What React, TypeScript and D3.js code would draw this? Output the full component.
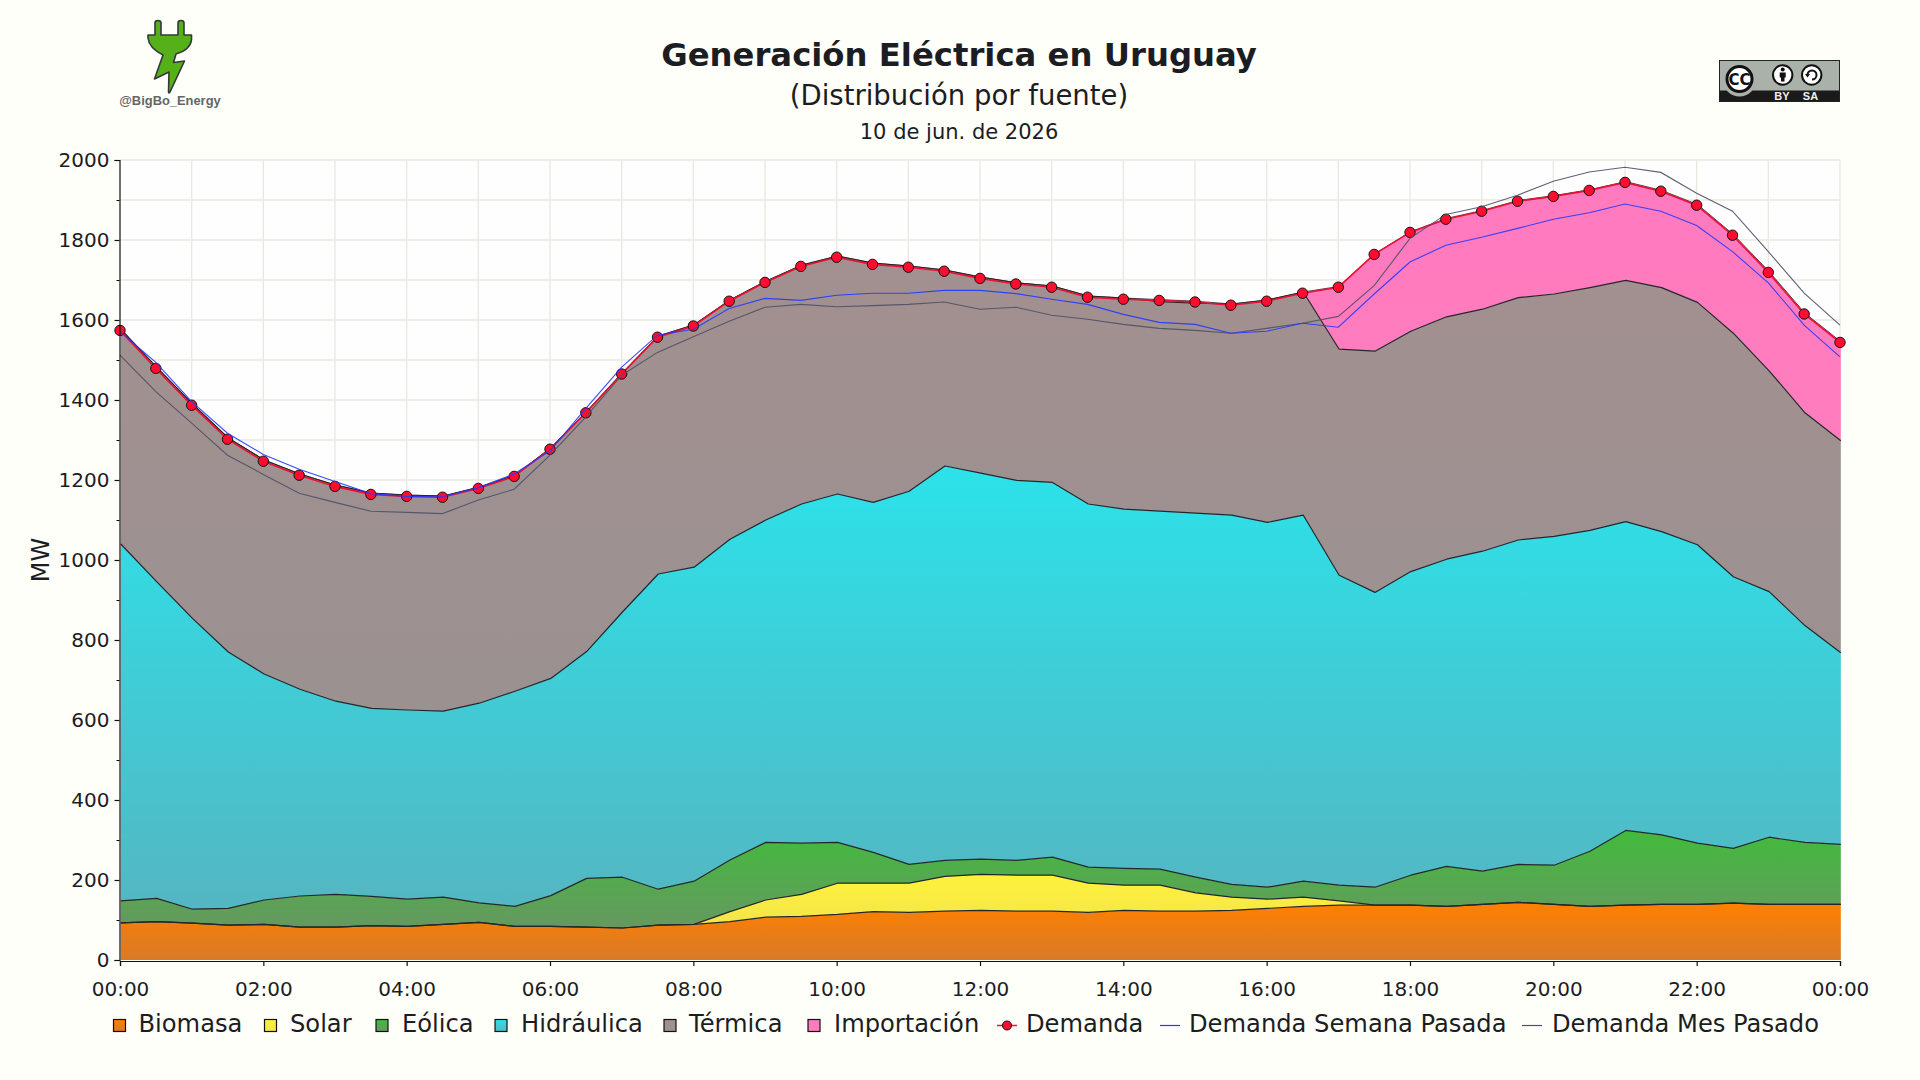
import { useEffect, useRef } from 'react'
import * as d3 from 'd3'

const hours = [
  0, 0.5, 1, 1.5, 2, 2.5, 3, 3.5, 4, 4.5, 5, 5.5, 6, 6.5, 7, 7.5, 8, 8.5, 9, 9.5, 10, 10.5, 11, 11.5,
  12, 12.5, 13, 13.5, 14, 14.5, 15, 15.5, 16, 16.5, 17, 17.5, 18, 18.5, 19, 19.5, 20, 20.5, 21, 21.5,
  22, 22.5, 23, 23.5, 24
]

const biomasa = [
  93, 96, 92, 87, 89, 82, 82, 86, 84, 89, 94, 84, 84, 82, 80, 87, 89, 96, 107, 109, 114, 121, 119, 122,
  124, 122, 122, 119, 124, 122, 122, 124, 129, 134, 137, 137, 137, 134, 139, 144, 139, 134, 137, 139,
  139, 142, 139, 139, 139
]
const solar = [
  0, 0, 0, 0, 0, 0, 0, 0, 0, 0, 0, 0, 0, 0, 0, 0, 0, 25, 43, 55, 78, 71, 73, 87,
  90, 90, 90, 73, 63, 65, 46, 33, 23, 23, 11, 0, 0, 0, 0, 0, 0, 0, 0, 0,
  0, 0, 0, 0, 0
]
const eolica = [
  55, 58, 35, 42, 61, 78, 82, 73, 68, 68, 49, 50, 77, 122, 127, 90, 108, 129, 144, 128, 102, 77, 47, 40,
  38, 37, 45, 40, 42, 40, 39, 32, 30, 40, 39, 45, 75, 100, 83, 95, 98, 138, 187, 174,
  153, 137, 168, 155, 150
]
const hidraulica = [
  892, 792, 727, 641, 565, 517, 483, 470, 473, 465, 499, 538, 543, 567, 663, 788, 785, 802, 806, 848, 871, 875, 933, 986,
  965, 950, 937, 908, 898, 895, 910, 923, 912, 915, 775, 737, 759, 768, 800, 811, 822, 802, 772, 758,
  746, 679, 614, 542, 479
]
const termica = [
  537, 536, 536, 535, 535, 538, 540, 538, 537, 538, 540, 540, 576, 600, 598, 595, 606, 598, 597, 597, 595, 598, 563, 490,
  490, 494, 491, 520, 528, 524, 525, 528, 556, 558, 565, 603, 601, 606, 605, 606, 606, 607, 603, 610,
  606, 609, 552, 532, 530
]
const importacion = [
  0, 0, 0, 0, 0, 0, 0, 0, 0, 0, 0, 0, 0, 0, 0, 0, 0, 0, 0, 0, 0, 0, 0, 0,
  0, 0, 0, 0, 0, 5, 5, 0, 0, 0, 157, 244, 249, 246, 247, 243, 246, 245, 247, 243,
  245, 247, 248, 249, 248
]
const demanda = [
  1574, 1479, 1387, 1302, 1247, 1212, 1184, 1164, 1159, 1157, 1179, 1209, 1277, 1368, 1465, 1557, 1585, 1647, 1694, 1734, 1757, 1739, 1732, 1722,
  1704, 1690, 1682, 1657, 1652, 1649, 1645, 1637, 1647, 1667, 1682, 1764, 1819, 1852, 1872, 1897, 1909, 1924, 1944, 1922,
  1887, 1812, 1719, 1615, 1544
]
const semanaPasada = [
  1571, 1494, 1396, 1317, 1264, 1227, 1196, 1166, 1159, 1158, 1181, 1215, 1273, 1379, 1482, 1562, 1577, 1629, 1654, 1649, 1662, 1667, 1667, 1674,
  1674, 1666, 1652, 1639, 1614, 1594, 1589, 1567, 1572, 1592, 1582, 1665, 1745, 1787, 1807, 1829, 1852, 1868, 1890, 1872,
  1836, 1771, 1693, 1587, 1508
]
const mesPasado = [
  1512, 1421, 1342, 1262, 1214, 1167, 1144, 1122, 1119, 1116, 1150, 1177, 1262, 1358, 1462, 1519, 1558, 1597, 1632, 1639, 1633, 1636, 1639, 1645,
  1627, 1632, 1612, 1602, 1589, 1579, 1574, 1567, 1579, 1592, 1609, 1686, 1804, 1864, 1883, 1912, 1947, 1970, 1982, 1969,
  1917, 1872, 1771, 1667, 1587
]

const sources = ['Biomasa', 'Solar', 'Eólica', 'Hidráulica', 'Térmica', 'Importación']
const sourceValues = [biomasa, solar, eolica, hidraulica, termica, importacion]
const gradients = [
  ['#ff8000', '#d87a28'],
  ['#fff23a', '#f3e44c'],
  ['#42bb3c', '#669860'],
  ['#2ce2ea', '#54b6c2'],
  ['#a39090', '#9b9191'],
  ['#ff7abf', '#ff7dbd']
]

const FONT = '"DejaVu Sans", sans-serif'
const INK = '#1c1d23'

export default function App() {
  const svgRef = useRef<SVGSVGElement>(null)

  useEffect(() => {
    if (!svgRef.current) return
    const svg = d3.select(svgRef.current)
    svg.selectAll('*').remove()

    const x = d3.scaleLinear().domain([0, 24]).range([120, 1840])
    const y = d3.scaleLinear().domain([0, 2000]).range([960, 160])

    // plot background and grid
    svg.append('rect').attr('width', 1920).attr('height', 1080).attr('fill', '#fffffa')
    svg.append('rect').attr('x', 120).attr('y', 160).attr('width', 1720).attr('height', 800).attr('fill', '#fffeff')

    const grid = svg.append('g').attr('stroke', '#e9e8e1').attr('stroke-width', 1.3)
    d3.range(1, 25).forEach(h => {
      grid.append('line').attr('x1', x(h)).attr('x2', x(h)).attr('y1', 160).attr('y2', 960)
    })
    d3.range(100, 2001, 100).forEach(v => {
      grid.append('line').attr('x1', 120).attr('x2', 1840).attr('y1', y(v)).attr('y2', y(v))
    })

    // stacked areas
    const rows = hours.map((h, i) => {
      const row: Record<string, number> = { h }
      sources.forEach((s, k) => { row[s] = sourceValues[k][i] })
      return row
    })
    const stacked = d3.stack<Record<string, number>>().keys(sources)(rows)

    const defs = svg.append('defs')
    gradients.forEach((g, i) => {
      const lg = defs.append('linearGradient')
        .attr('id', `grad${i}`)
        .attr('x1', 0).attr('x2', 0).attr('y1', 0).attr('y2', 1)
      lg.append('stop').attr('offset', '0%').attr('stop-color', g[0])
      lg.append('stop').attr('offset', '100%').attr('stop-color', g[1])
    })

    const area = d3.area<d3.SeriesPoint<Record<string, number>>>()
      .x(d => x(d.data.h) + 0.8)
      .y0(d => y(d[0]))
      .y1(d => y(d[1]))
    const topLine = d3.line<d3.SeriesPoint<Record<string, number>>>()
      .x(d => x(d.data.h) + 0.8)
      .y(d => y(d[1]))

    stacked.forEach((layer, i) => {
      svg.append('path').attr('d', area(layer)).attr('fill', `url(#grad${i})`)
    })
    stacked.forEach((layer, i) => {
      // solar and importación collapse onto the layer below, their line still shows
      svg.append('path').attr('d', topLine(layer))
        .attr('fill', 'none')
        .attr('stroke', '#23272b')
        .attr('stroke-width', i === 5 ? 0.8 : 1.2)
        .attr('stroke-linejoin', 'round')
    })

    // demand lines
    const line = d3.line<number>().x((_, i) => x(hours[i])).y(d => y(d))

    svg.append('path').attr('d', line(demanda))
      .attr('fill', 'none').attr('stroke', '#ee1032').attr('stroke-width', 1.6)
    svg.append('g').selectAll('circle')
      .data(demanda)
      .enter().append('circle')
      .attr('cx', (_, i) => x(hours[i]))
      .attr('cy', d => y(d))
      .attr('r', 5.2)
      .attr('fill', '#ff0c2e')
      .attr('stroke', '#111')
      .attr('stroke-width', 1)

    svg.append('path').attr('d', line(mesPasado))
      .attr('fill', 'none').attr('stroke', '#4f5066').attr('stroke-width', 1.1).attr('opacity', 0.9)
    svg.append('path').attr('d', line(semanaPasada))
      .attr('fill', 'none').attr('stroke', '#2238ff').attr('stroke-width', 1.1).attr('opacity', 0.9)

    // axes
    const xAxis = d3.axisBottom(x)
      .tickValues(d3.range(0, 25, 2))
      .tickSize(5)
      .tickPadding(16)
      .tickFormat(d => `${String(Number(d) % 24).padStart(2, '0')}:00`)
    const xg = svg.append('g').attr('transform', 'translate(0,961)').call(xAxis)

    const yAxis = d3.axisLeft(y)
      .tickValues(d3.range(0, 2001, 200))
      .tickSize(5)
      .tickPadding(5)
      .tickFormat(d => String(d))
    const yg = svg.append('g').attr('transform', 'translate(119.5,0)').call(yAxis)

    const yMinor = d3.axisLeft(y).tickValues(d3.range(100, 2000, 200)).tickSize(3).tickFormat(() => '')
    svg.append('g').attr('transform', 'translate(119.5,0)').call(yMinor).select('.domain').remove()

    ;[xg, yg].forEach(g => {
      g.selectAll('text')
        .style('font-family', FONT)
        .style('font-size', '20px')
        .style('fill', INK)
      g.selectAll('path,line').attr('stroke', '#111').attr('stroke-width', 1.2)
    })

    svg.append('text')
      .attr('transform', 'translate(49,560) rotate(-90)')
      .attr('text-anchor', 'middle')
      .style('font-family', FONT)
      .style('font-size', '24px')
      .style('fill', INK)
      .text('MW')

    // titles
    const title = (text: string, yPos: number, size: number, weight: string) =>
      svg.append('text')
        .attr('x', 959)
        .attr('y', yPos)
        .attr('text-anchor', 'middle')
        .style('font-family', FONT)
        .style('font-size', `${size}px`)
        .style('font-weight', weight)
        .style('fill', INK)
        .text(text)
    title('Generación Eléctrica en Uruguay', 66, 32.3, 'bold')
    title('(Distribución por fuente)', 105, 27.5, 'normal')
    title('10 de jun. de 2026', 139, 21, 'normal')

    // legend
    const legendText = (text: string, xPos: number) =>
      svg.append('text')
        .attr('x', xPos)
        .attr('y', 1031.5)
        .style('font-family', FONT)
        .style('font-size', '24.2px')
        .style('fill', INK)
        .text(text)
    const swatchX = [113.5, 264.5, 376, 495, 664, 808]
    const labelX = [138.5, 290, 402, 521, 689, 834]
    sources.forEach((s, i) => {
      svg.append('rect')
        .attr('x', swatchX[i]).attr('y', 1019.5)
        .attr('width', 12).attr('height', 12)
        .attr('fill', `url(#grad${i})`)
        .attr('stroke', '#111').attr('stroke-width', 1.2)
      legendText(s, labelX[i])
    })
    svg.append('line').attr('x1', 997).attr('x2', 1017).attr('y1', 1025.5).attr('y2', 1025.5)
      .attr('stroke', '#ee1032').attr('stroke-width', 1.5)
    svg.append('circle').attr('cx', 1007).attr('cy', 1025.5).attr('r', 4.5)
      .attr('fill', '#ff0c2e').attr('stroke', '#111').attr('stroke-width', 1)
    legendText('Demanda', 1026)
    svg.append('line').attr('x1', 1160).attr('x2', 1180).attr('y1', 1025.5).attr('y2', 1025.5)
      .attr('stroke', '#2238ff').attr('stroke-width', 1.2)
    legendText('Demanda Semana Pasada', 1189)
    svg.append('line').attr('x1', 1522).attr('x2', 1542).attr('y1', 1025.5).attr('y2', 1025.5)
      .attr('stroke', '#4f5066').attr('stroke-width', 1.2)
    legendText('Demanda Mes Pasado', 1552)

    // plug logo
    const logo = svg.append('g')
    logo.append('path')
      .attr('d', 'M155,35 L155,23 Q155,20.5 158,20.5 Q161,20.5 161,23 L161,35 L178,35 L178,23 Q178,20.5 181,20.5 Q184,20.5 184,23 L184,35 L191.5,35 L191.5,40 Q190,50 176,54 L173.5,62.5 L184.5,61 L170,92 Q169,94 168.5,92 L169,72 L154.5,79 L163,55 Q149,48 148,38 L148,35 Z')
      .attr('fill', '#56b01a')
      .attr('stroke', '#33383a')
      .attr('stroke-width', 1.6)
      .attr('stroke-linejoin', 'round')
    svg.append('text')
      .attr('x', 170).attr('y', 105)
      .attr('text-anchor', 'middle')
      .style('font-family', '"Liberation Sans", sans-serif')
      .style('font-size', '12.9px')
      .style('font-weight', 'bold')
      .style('fill', '#666')
      .text('@BigBo_Energy')

    // cc badge
    const badge = svg.append('g')
    badge.append('rect').attr('x', 1719).attr('y', 60).attr('width', 121).attr('height', 42).attr('fill', '#aab1aa')
    badge.append('rect').attr('x', 1719).attr('y', 90.5).attr('width', 121).attr('height', 11.5).attr('fill', '#1a1a1a')
    badge.append('rect').attr('x', 1719.5).attr('y', 60.5).attr('width', 120).attr('height', 41)
      .attr('fill', 'none').attr('stroke', '#222')
    badge.append('circle').attr('cx', 1739.5).attr('cy', 80).attr('r', 16.5).attr('fill', '#aab1aa')
    badge.append('circle').attr('cx', 1739.5).attr('cy', 79).attr('r', 12.5).attr('fill', '#fff').attr('stroke', '#111').attr('stroke-width', 3)
    badge.append('text').attr('x', 1739.5).attr('y', 84.5).attr('text-anchor', 'middle')
      .style('font-family', FONT).style('font-size', '15px').style('font-weight', 'bold').style('fill', '#111').text('CC')
    ;[1782.7, 1811.7].forEach(cx => {
      badge.append('circle').attr('cx', cx).attr('cy', 75).attr('r', 9.7).attr('fill', '#fff').attr('stroke', '#111').attr('stroke-width', 2)
    })
    badge.append('circle').attr('cx', 1782.7).attr('cy', 69.5).attr('r', 2).attr('fill', '#111')
    badge.append('path').attr('d', 'M1779.7,72.5 H1785.7 V77.5 H1784.5 V81.5 H1781 V77.5 H1779.7 Z').attr('fill', '#111')
    badge.append('path').attr('d', 'M1807.5,75 A4.5,4.5 0 1 1 1812,79.5')
      .attr('fill', 'none').attr('stroke', '#111').attr('stroke-width', 2)
    badge.append('path').attr('d', 'M1805,74 L1810,74 L1807.5,77.5 Z').attr('fill', '#111')
    ;[['BY', 1782], ['SA', 1810.5]].forEach(([t, tx]) => {
      badge.append('text').attr('x', tx).attr('y', 99.5).attr('text-anchor', 'middle')
        .style('font-family', '"Liberation Sans", sans-serif').style('font-size', '11px').style('font-weight', 'bold').style('fill', '#eee').text(String(t))
    })
  }, [])

  return (
    <svg
      ref={svgRef}
      width={1920}
      height={1080}
      style={{ position: 'fixed', left: 0, top: 0, display: 'block' }}
    />
  )
}
